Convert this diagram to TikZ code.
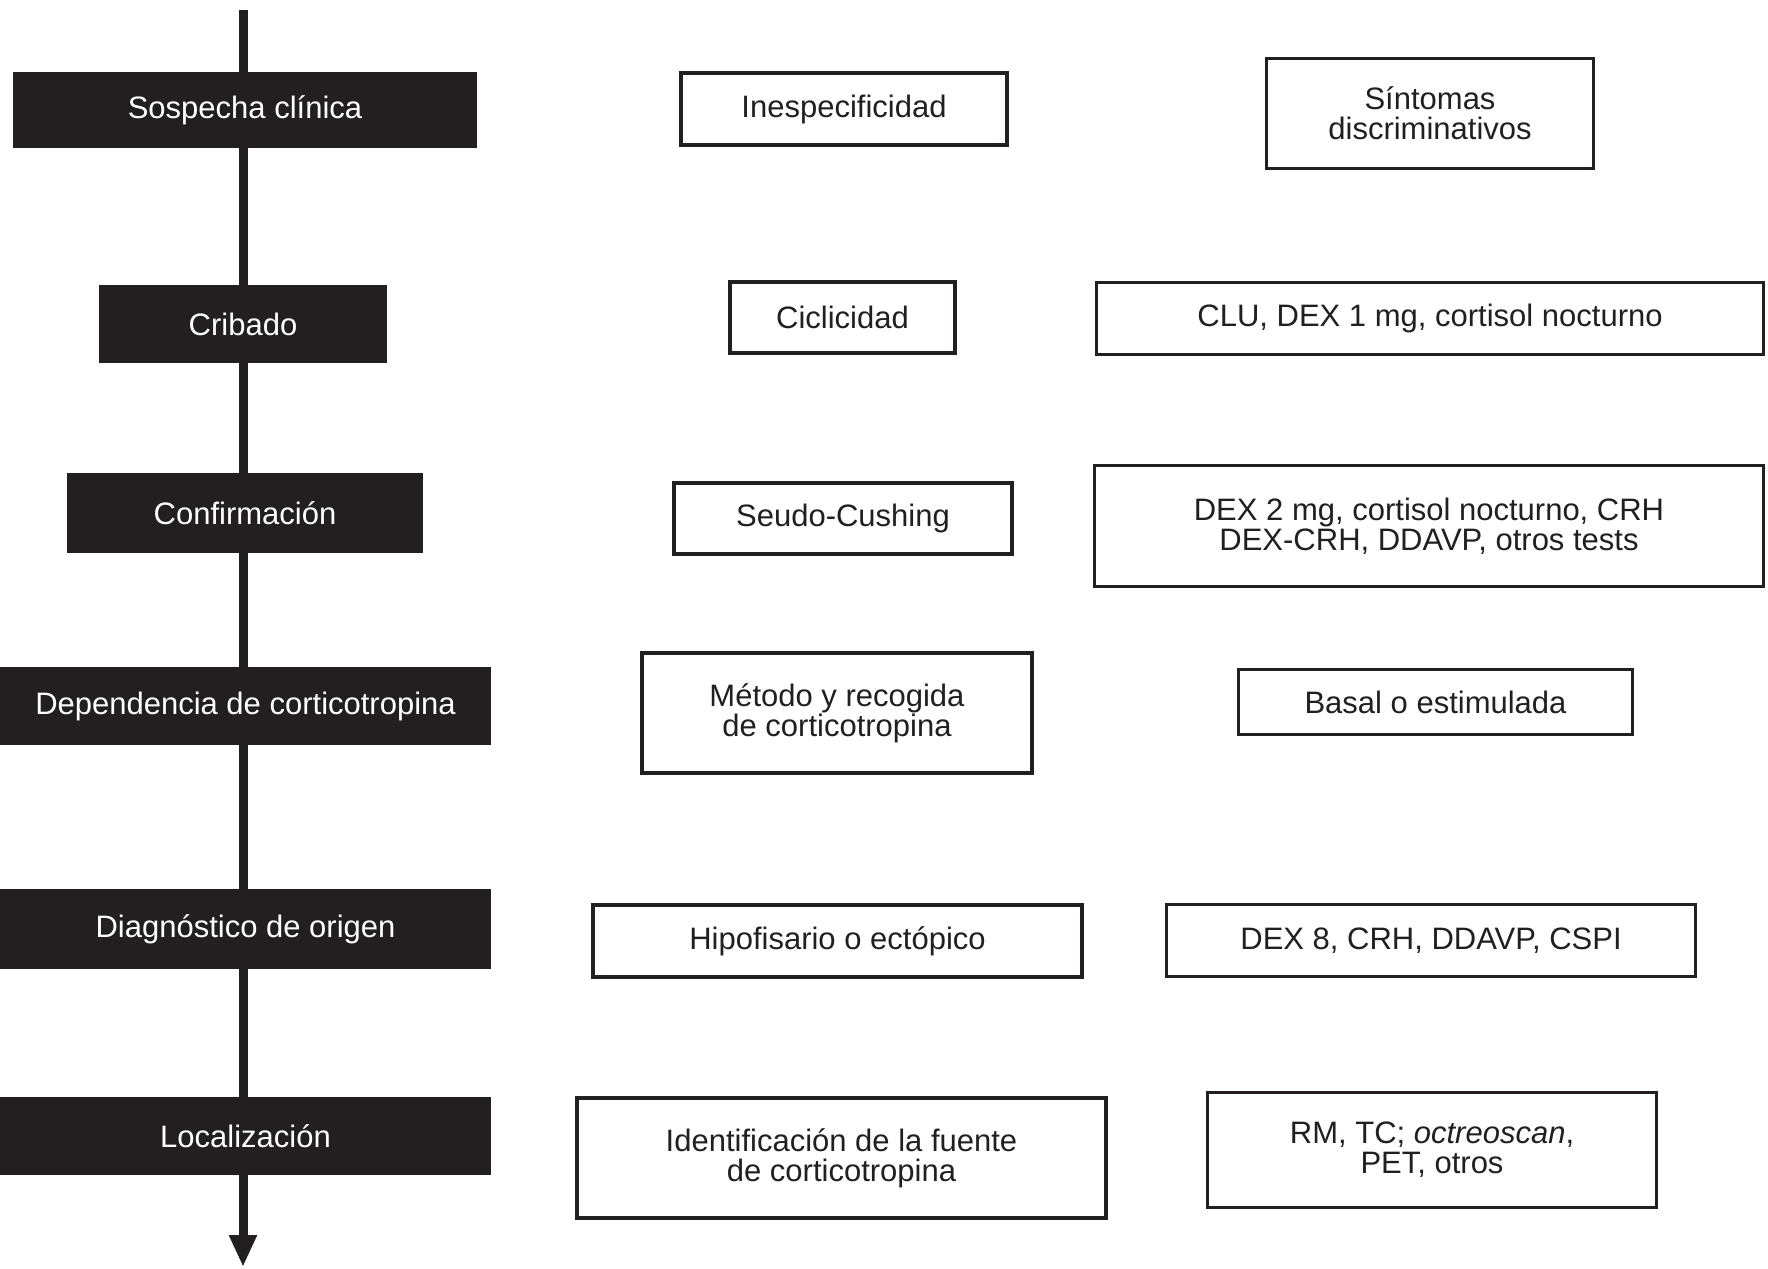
\documentclass[tikz,border=0pt]{standalone}
\usepackage{fontspec}
\setmainfont{Liberation Sans}
\usetikzlibrary{arrows.meta}
\definecolor{ink}{RGB}{35,31,32}
\begin{document}
\begin{tikzpicture}[x=1pt,y=-1pt,
  every node/.style={inner sep=0pt, outer sep=0pt, align=center,
    font=\fontsize{31}{30}\selectfont, text=ink},
  stage/.style={fill=ink, text=white},
  keybox/.style={draw=ink, line width=4.5pt, fill=white},
  testbox/.style={draw=ink, line width=2.5pt, fill=white},
  spine/.style={draw=ink, line width=9pt},
]
\useasboundingbox (0,0) rectangle (1768,1268);

% stages of the diagnostic sequence (left column)
\node[stage, minimum width=464, minimum height=76] (sosp) at (245,110) {Sospecha clínica};
\node[stage, minimum width=288, minimum height=78] (crib) at (243,324) {Cribado};
\node[stage, minimum width=356, minimum height=80] (conf) at (245,513) {Confirmación};
\node[stage, minimum width=491, minimum height=78] (dep)  at (245.5,706) {Dependencia de corticotropina};
\node[stage, minimum width=491, minimum height=80] (diag) at (245.5,929) {Diagnóstico de origen};
\node[stage, minimum width=491, minimum height=78] (loc)  at (245.5,1136) {Localización};

% vertical spine through the stages
\coordinate (top) at (243,10);
\coordinate (bot) at (243,1267);
\draw[spine] (top) -- (top |- sosp.north);
\draw[spine] (sosp.south -| top) -- (crib.north -| top);
\draw[spine] (crib.south -| top) -- (conf.north -| top);
\draw[spine] (conf.south -| top) -- (dep.north -| top);
\draw[spine] (dep.south -| top) -- (diag.north -| top);
\draw[spine] (diag.south -| top) -- (loc.north -| top);
\draw[spine, -{Triangle[width=26pt,length=32pt]}] (loc.south -| top) -- (bot);

% difficulties at each stage (middle column)
\node[keybox, minimum width=326, minimum height=72]  (ines)  at (844,109)    {Inespecificidad};
\node[keybox, minimum width=225, minimum height=71]  (cicl)  at (842.5,317.5) {Ciclicidad};
\node[keybox, minimum width=338, minimum height=71]  (seudo) at (843,518.5)  {Seudo-Cushing};
\node[keybox, minimum width=390, minimum height=120] (metod) at (837,713)    {Método y recogida\\de corticotropina};
\node[keybox, minimum width=489, minimum height=72]  (hipo)  at (837.5,941)  {Hipofisario o ectópico};
\node[keybox, minimum width=529, minimum height=120] (ident) at (841.5,1158) {Identificación de la fuente\\de corticotropina};

% tests and tools at each stage (right column)
\node[testbox, minimum width=327, minimum height=110] (sint)  at (1430,113.5)  {Síntomas\\discriminativos};
\node[testbox, minimum width=667, minimum height=72]  (clu)   at (1430,318.5)  {CLU, DEX 1 mg, cortisol nocturno};
\node[testbox, minimum width=669, minimum height=121] (dexb)  at (1429,526)    {DEX 2 mg, cortisol nocturno, CRH\\DEX-CRH, DDAVP, otros tests};
\node[testbox, minimum width=394, minimum height=65]  (basal) at (1435.5,702)  {Basal o estimulada};
\node[testbox, minimum width=529, minimum height=72]  (dexc)  at (1431,940.5)  {DEX 8, CRH, DDAVP, CSPI};
\node[testbox, minimum width=449, minimum height=115] (rm)    at (1432,1150)   {RM, TC; \textit{octreoscan},\\PET, otros};
\end{tikzpicture}
\end{document}
